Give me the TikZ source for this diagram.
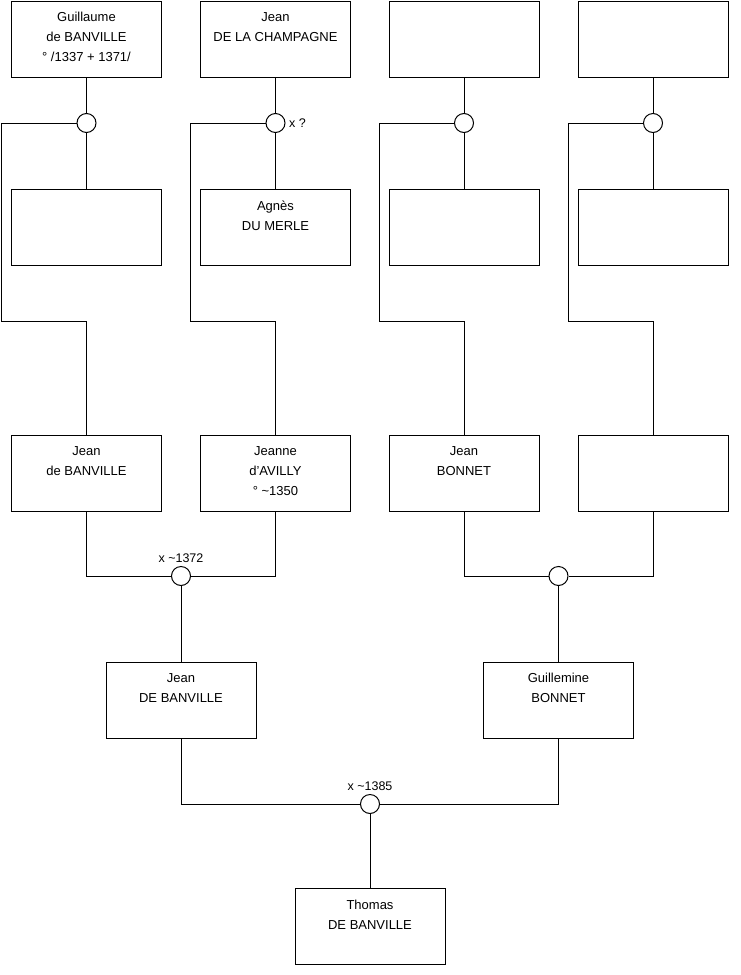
\documentclass[tikz,border=0pt]{standalone}
\usepackage{fontspec}
\setmainfont{Liberation Sans}
\begin{document}
\begin{tikzpicture}[x=1pt,y=-1pt,
  box/.style={draw=black, line width=1pt, minimum width=150pt, minimum height=76pt, inner sep=0pt, anchor=north, fill=white},
  txt/.style={font=\fontsize{13}{20}\selectfont, align=center, inner sep=0pt, anchor=north},
  lbl/.style={font=\fontsize{12.5}{14}\selectfont, inner sep=0pt},
  ring/.style={draw=black, line width=1pt, circle, minimum size=19pt, inner sep=0pt, fill=white},
  ln/.style={draw=black, line width=1pt}]
\useasboundingbox (0,0) rectangle (740,975);
% row 1
\node[box] (b11) at (86.5,0.5) {};
\node[box] (b12) at (275.5,0.5) {};
\node[box] (b13) at (464,0.5) {};
\node[box] (b14) at (653,0.5) {};
% row 2
\node[box] (b21) at (86.5,189) {};
\node[box] (b22) at (275.5,189) {};
\node[box] (b23) at (464,189) {};
\node[box] (b24) at (653,189) {};
% row 3
\node[box] (b31) at (86.5,435) {};
\node[box] (b32) at (275.5,435) {};
\node[box] (b33) at (464,435) {};
\node[box] (b34) at (653,435) {};
% row 4
\node[box] (b41) at (181,661.5) {};
\node[box] (b42) at (558.5,661.5) {};
% row 5
\node[box] (b5) at (370,888) {};
% bend points
\coordinate (k1) at (1,321.5);
\coordinate (k2) at (190,321.5);
\coordinate (k3) at (379,321.5);
\coordinate (k4) at (568,321.5);
% connectors row1 -> row2 and row3
\path[ln] (b11.south) -- (b21.north);
\path[ln] (b12.south) -- (b22.north);
\path[ln] (b13.south) -- (b23.north);
\path[ln] (b14.south) -- (b24.north);
\node[ring] (c1) at (86.5,123) {};
\node[ring] (c2) at (275.5,123) {};
\node[ring] (c3) at (464,123) {};
\node[ring] (c4) at (653,123) {};
\path[ln] (c1.west) -| (k1) -| (b31.north);
\path[ln] (c2.west) -| (k2) -| (b32.north);
\path[ln] (c3.west) -| (k3) -| (b33.north);
\path[ln] (c4.west) -| (k4) -| (b34.north);
% row3 -> row4
\node[ring] (c5) at (181,576) {};
\node[ring] (c6) at (558.5,576) {};
\path[ln] (b31.south) |- (c5.west);
\path[ln] (b32.south) |- (c5.east);
\path[ln] (c5.south) -- (b41.north);
\path[ln] (b33.south) |- (c6.west);
\path[ln] (b34.south) |- (c6.east);
\path[ln] (c6.south) -- (b42.north);
% row4 -> row5
\node[ring] (c7) at (370,804) {};
\path[ln] (b41.south) |- (c7.west);
\path[ln] (b42.south) |- (c7.east);
\path[ln] (c7.south) -- (b5.north);
% texts
\node[txt] (t11) at ([yshift=-11.5pt]b11.north) {Guillaume\\de BANVILLE\\° /1337 + 1371/};
\node[txt] (t12) at ([yshift=-11.5pt]b12.north) {Jean\\DE LA CHAMPAGNE};
\node[txt] (t22) at ([yshift=-11.5pt]b22.north) {Agnès\\DU MERLE};
\node[txt] (t31) at ([yshift=-11.5pt]b31.north) {Jean\\de BANVILLE};
\node[txt] (t32) at ([yshift=-11.5pt]b32.north) {Jeanne\\d'AVILLY\\° \textasciitilde1350};
\node[txt] (t33) at ([yshift=-11.5pt]b33.north) {Jean\\BONNET};
\node[txt] (t41) at ([yshift=-11.5pt]b41.north) {Jean\\DE BANVILLE};
\node[txt] (t42) at ([yshift=-11.5pt]b42.north) {Guillemine\\BONNET};
\node[txt] (t5) at ([yshift=-11.5pt]b5.north) {Thomas\\DE BANVILLE};
% marriage labels
\node[lbl, anchor=west] (m2) at (289,123) {x ?};
\node[lbl] (m5) at (181,558) {x \textasciitilde1372};
\node[lbl] (m7) at (370,786) {x \textasciitilde1385};
\end{tikzpicture}
\end{document}
